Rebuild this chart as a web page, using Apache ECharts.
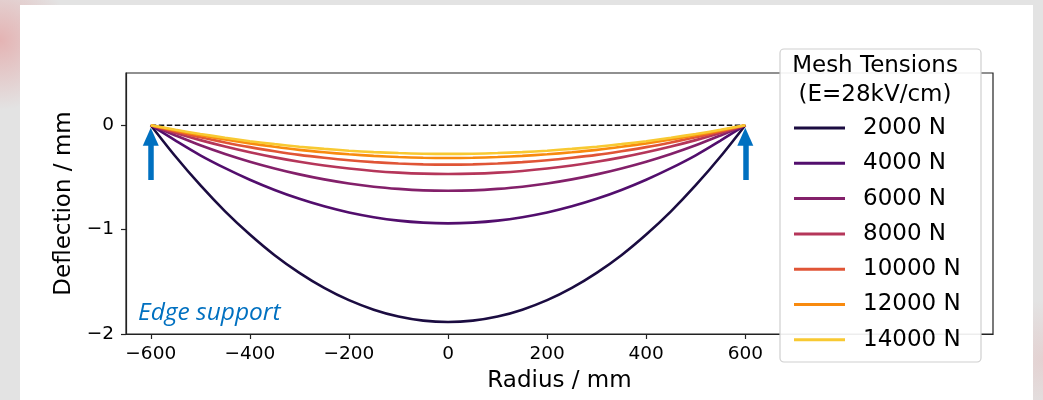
<!DOCTYPE html>
<html>
<head>
<meta charset="utf-8">
<title>Mesh deflection vs radius</title>
<script src="https://cdn.jsdelivr.net/npm/echarts@6/dist/echarts.min.js"></script>
<style>
    html, body { margin: 0; padding: 0; width: 1043px; height: 400px; overflow: hidden; }
    body {
        background:
            radial-gradient(circle at 0px 40px, rgba(230, 90, 90, 0.35), rgba(230, 90, 90, 0) 70px),
            radial-gradient(circle at 1043px 360px, rgba(230, 130, 130, 0.18), rgba(230, 130, 130, 0) 60px),
            #e3e3e3;
    }
    #card { position: absolute; left: 20px; top: 5px; width: 1013px; height: 395px; background: #fff; }
    #chart { position: absolute; left: 0; top: 0; width: 1043px; height: 400px; }
</style>
</head>
<body>
<div id="card"></div>
<div id="chart"></div>
<script>
// --- Data (every 50 mm) ---
const radius = [-600, -550, -500, -450, -400, -350, -300, -250, -200, -150, -100, -50, 0,
                50, 100, 150, 200, 250, 300, 350, 400, 450, 500, 550, 600];
const tensions = ['2000 N', '4000 N', '6000 N', '8000 N', '10000 N', '12000 N', '14000 N'];
const defl2000 = [0, -0.30, -0.575, -0.825, -1.047, -1.245, -1.414, -1.558, -1.676, -1.767, -1.833, -1.872, -1.885,
                  -1.872, -1.833, -1.767, -1.676, -1.558, -1.414, -1.245, -1.047, -0.825, -0.575, -0.30, 0];
const defl4000 = [0, -0.147, -0.288, -0.411, -0.522, -0.62, -0.705, -0.777, -0.836, -0.881, -0.914, -0.933, -0.94,
                  -0.933, -0.914, -0.881, -0.836, -0.777, -0.705, -0.62, -0.522, -0.411, -0.288, -0.147, 0];
const defl6000 = [0, -0.098, -0.192, -0.275, -0.349, -0.414, -0.471, -0.519, -0.558, -0.589, -0.61, -0.624, -0.628,
                  -0.624, -0.61, -0.589, -0.558, -0.519, -0.471, -0.414, -0.349, -0.275, -0.192, -0.098, 0];
const defl8000 = [0, -0.075, -0.143, -0.204, -0.259, -0.308, -0.35, -0.386, -0.415, -0.438, -0.454, -0.464, -0.467,
                  -0.464, -0.454, -0.438, -0.415, -0.386, -0.35, -0.308, -0.259, -0.204, -0.143, -0.075, 0];
const defl10000 = [0, -0.06, -0.116, -0.165, -0.21, -0.249, -0.284, -0.312, -0.336, -0.354, -0.367, -0.375, -0.378,
                   -0.375, -0.367, -0.354, -0.336, -0.312, -0.284, -0.249, -0.21, -0.165, -0.116, -0.06, 0];
const defl12000 = [0, -0.05, -0.096, -0.137, -0.174, -0.207, -0.236, -0.259, -0.279, -0.294, -0.305, -0.312, -0.314,
                   -0.312, -0.305, -0.294, -0.279, -0.259, -0.236, -0.207, -0.174, -0.137, -0.096, -0.05, 0];
const defl14000 = [0, -0.044, -0.084, -0.12, -0.153, -0.181, -0.206, -0.227, -0.244, -0.258, -0.267, -0.273, -0.275,
                   -0.273, -0.267, -0.258, -0.244, -0.227, -0.206, -0.181, -0.153, -0.12, -0.084, -0.044, 0];
const deflections = [defl2000, defl4000, defl6000, defl8000, defl10000, defl12000, defl14000];
const flatLine = [[-600, 0], [600, 0]];
const supportX = [-600, 600];
const xTicks = [-600, -400, -200, 0, 200, 400, 600];
const yTicks = [-2, -1, 0];

// inferno-ish palette
const colors = ['#1b0c41', '#520e6d', '#83206a', '#b5365a', '#e05536', '#f88a0e', '#f8c932'];
const sansFont = '"DejaVu Sans", sans-serif';
const minus = v => (v < 0 ? '\u2212' + Math.abs(v) : String(v));

const chart = echarts.init(document.getElementById('chart'));

const curveSeries = tensions.map((name, i) => ({
    name: name,
    type: 'line',
    data: radius.map((r, j) => [r, deflections[i][j]]),
    smooth: 0.3,
    showSymbol: false,
    lineStyle: { color: colors[i], width: 2.6 },
    itemStyle: { color: colors[i] },
    emphasis: { disabled: true }
}));

const option = {
    animation: false,
    grid: { left: 126, right: 50, top: 73, bottom: 66, show: true, borderColor: '#222', borderWidth: 1.2, backgroundColor: 'transparent' },
    xAxis: {
        type: 'value', min: -650, max: 1100,
        name: 'Radius / mm', nameLocation: 'middle', nameGap: 36,
        nameTextStyle: { fontFamily: sansFont, fontSize: 23, color: '#000' },
        axisLine: { show: true, onZero: false, lineStyle: { color: '#222', width: 1.2 } },
        axisTick: { show: true, length: 5, customValues: xTicks, lineStyle: { color: '#222', width: 1.2 } },
        axisLabel: { customValues: xTicks, formatter: minus, fontFamily: sansFont, fontSize: 18.5, color: '#000', margin: 11 },
        splitLine: { show: false }
    },
    yAxis: {
        type: 'value', min: -2, max: 0.5,
        name: 'Deflection / mm', nameLocation: 'middle', nameRotate: 90, nameGap: 50,
        nameTextStyle: { fontFamily: sansFont, fontSize: 23, color: '#000' },
        axisLine: { show: true, onZero: false, lineStyle: { color: '#222', width: 1.2 } },
        axisTick: { show: true, length: 5, customValues: yTicks, lineStyle: { color: '#222', width: 1.2 } },
        axisLabel: { customValues: yTicks, formatter: minus, fontFamily: sansFont, fontSize: 18.5, color: '#000', margin: 12 },
        splitLine: { show: false }
    },
    legend: {
        data: tensions, orient: 'vertical', left: 794, top: 115,
        itemWidth: 51, itemHeight: 3, itemGap: 9.3, icon: 'rect', padding: 0,
        selectedMode: false, z: 20,
        textStyle: { fontFamily: sansFont, fontSize: 23, color: '#000', lineHeight: 26, padding: [0, 0, 0, 13] }
    },
    graphic: [
        { type: 'rect', z: 10, shape: { x: 780, y: 49, width: 201, height: 313, r: 4 },
          style: { fill: 'rgba(255,255,255,0.92)', stroke: '#cfcfcf', lineWidth: 1.2 } },
        { type: 'text', z: 11, x: 875, y: 66,
          style: { text: 'Mesh Tensions', font: '23px ' + sansFont, fill: '#000', align: 'center', verticalAlign: 'middle' } },
        { type: 'text', z: 11, x: 875, y: 95,
          style: { text: '(E=28kV/cm)', font: '23px ' + sansFont, fill: '#000', align: 'center', verticalAlign: 'middle' } },
        { type: 'text', z: 11, x: 138, y: 313,
          style: { text: 'Edge support', font: 'italic 24.5px "Open Sans", sans-serif', fill: '#0070c0', verticalAlign: 'middle' } }
    ],
    series: [
        {
            name: 'flat', type: 'line', data: flatLine, showSymbol: false, silent: true,
            lineStyle: { color: '#111', width: 1.5, type: [5.5, 2.5] },
            markLine: {
                silent: true, animation: false,
                symbol: ['none', 'triangle'], symbolSize: [16, 18],
                label: { show: false },
                lineStyle: { color: '#0070c0', width: 5.5, type: 'solid' },
                emphasis: { disabled: true },
                data: supportX.map(x => [{ coord: [x, -0.525] }, { coord: [x, -0.11] }])
            }
        },
        ...curveSeries
    ]
};

chart.setOption(option);
</script>
</body>
</html>
